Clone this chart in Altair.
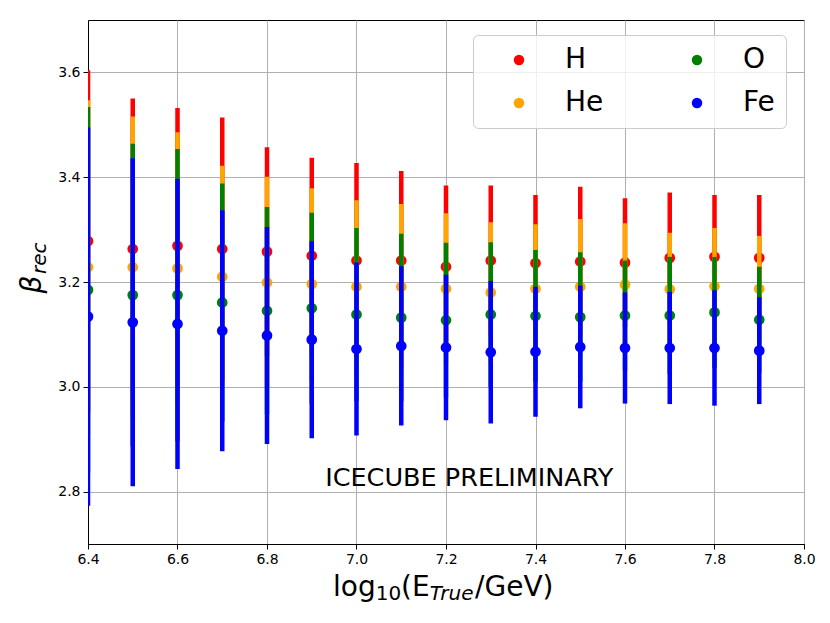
import altair as alt
import pandas as pd

# ---------------- data ----------------
energies = [6.4, 6.5, 6.6, 6.7, 6.8, 6.9, 7.0, 7.1, 7.2, 7.3, 7.4, 7.5, 7.6, 7.7, 7.8, 7.9]

h_beta = [3.278, 3.263, 3.269, 3.263, 3.258, 3.250, 3.241, 3.241, 3.229, 3.241, 3.236, 3.239, 3.237, 3.246, 3.248, 3.246]
h_err = [0.326, 0.287, 0.263, 0.251, 0.199, 0.187, 0.186, 0.171, 0.155, 0.143, 0.130, 0.143, 0.123, 0.125, 0.118, 0.120]

he_beta = [3.228, 3.228, 3.226, 3.210, 3.199, 3.196, 3.191, 3.191, 3.187, 3.180, 3.187, 3.191, 3.195, 3.186, 3.192, 3.187]
he_err = [0.319, 0.288, 0.260, 0.212, 0.202, 0.183, 0.165, 0.158, 0.144, 0.134, 0.123, 0.129, 0.117, 0.108, 0.111, 0.101]

o_beta = [3.185, 3.175, 3.175, 3.161, 3.145, 3.150, 3.138, 3.132, 3.127, 3.138, 3.135, 3.133, 3.136, 3.136, 3.142, 3.128]
o_err = [0.349, 0.289, 0.279, 0.227, 0.198, 0.182, 0.165, 0.160, 0.148, 0.138, 0.126, 0.124, 0.105, 0.112, 0.106, 0.101]

fe_beta = [3.134, 3.123, 3.120, 3.107, 3.098, 3.090, 3.072, 3.078, 3.075, 3.066, 3.067, 3.076, 3.074, 3.074, 3.074, 3.069]
fe_err = [0.361, 0.313, 0.277, 0.230, 0.207, 0.188, 0.165, 0.152, 0.139, 0.136, 0.124, 0.117, 0.106, 0.107, 0.110, 0.102]

species = ["H", "He", "O", "Fe"]
species_colors = ["#ff0000", "#ffa500", "#008000", "#0000ff"]

x_ticks = [6.4, 6.6, 6.8, 7.0, 7.2, 7.4, 7.6, 7.8, 8.0]
y_ticks = [2.8, 3.0, 3.2, 3.4, 3.6]

note_text = "ICECUBE PRELIMINARY"

# ---------------- table ----------------
series = {"H": (h_beta, h_err), "He": (he_beta, he_err), "O": (o_beta, o_err), "Fe": (fe_beta, fe_err)}
frames = []
for sp in species:
    b, e = series[sp]
    d = pd.DataFrame({"energy": energies, "beta": b, "err": e})
    d["species"] = sp
    d["lo"] = d["beta"] - d["err"]
    d["hi"] = d["beta"] + d["err"]
    frames.append(d)
df = pd.concat(frames, ignore_index=True)

color_of = dict(zip(species, species_colors))
color_scale = alt.Scale(domain=species, range=species_colors)

x_scale = alt.Scale(domain=[6.4, 8.0], nice=False, zero=False)
y_scale = alt.Scale(domain=[2.7, 3.7], nice=False, zero=False)
x_axis = alt.Axis(values=x_ticks, format=".1f", title=None, labelFlush=False, grid=True)
y_axis = alt.Axis(values=y_ticks, format=".1f", title=None, grid=True)

legend = alt.Legend(
    title=None, orient="none", legendX=385, legendY=15, columns=2,
    labelFontSize=28, labelFont="DejaVu Sans", labelColor="black",
    symbolType="circle", symbolSize=110, symbolStrokeWidth=0, symbolOpacity=1,
    symbolOffset=21, labelOffset=32, columnPadding=58, rowPadding=15,
    padding=11, fillColor="rgba(255,255,255,0.8)", strokeColor="#cccccc",
    cornerRadius=5,
)

layers = []
for sp in species:
    base = alt.Chart(df).transform_filter(alt.datum.species == sp)
    bars = base.mark_rule(color=color_of[sp], strokeWidth=4.5, clip=True).encode(
        x=alt.X("energy:Q", scale=x_scale, axis=x_axis),
        y=alt.Y("lo:Q", scale=y_scale, axis=y_axis),
        y2="hi:Q",
    )
    pts = base.mark_point(filled=True, opacity=1, size=115, clip=True).encode(
        x=alt.X("energy:Q", scale=x_scale, axis=x_axis),
        y=alt.Y("beta:Q", scale=y_scale, axis=y_axis),
        color=alt.Color("species:N", scale=color_scale, legend=legend),
    )
    layers += [bars, pts]

note = alt.Chart(pd.DataFrame({"label": [note_text]})).mark_text(
    align="left", baseline="alphabetic", fontSize=25.5, font="DejaVu Sans", color="black"
).encode(
    x=alt.XDatum(6.93, type="quantitative", scale=x_scale, axis=x_axis),
    y=alt.YDatum(2.81, type="quantitative", scale=y_scale, axis=y_axis),
    text="label:N",
)
layers.append(note)

one = pd.DataFrame({"a": [0]})


def piece(text, x, y, size, italic=False, angle=0):
    return alt.Chart(one).mark_text(
        text=text, align="left", baseline="alphabetic", fontSize=size,
        font="DejaVu Sans", fontStyle="italic" if italic else "normal",
        color="black", angle=angle,
    ).encode(x=alt.value(x), y=alt.value(y))


# x-axis title: log10(E_True/GeV)
layers += [
    piece("log", 245, 575.5, 28),
    piece("10", 287.7, 580, 20),
    piece("(E", 313.1, 575.5, 28),
    piece("True", 341.7, 580, 20, italic=True),
    piece("/GeV)", 387.1, 575.5, 28),
]
# y-axis title: beta_rec
layers += [
    piece("β", -47, 273.5, 28, italic=True, angle=270),
    piece("rec", -42, 254, 20, italic=True, angle=270),
]

chart = alt.layer(*layers).properties(
    width=716, height=524, autosize="none",
    padding={"left": 80, "top": 12, "right": 14, "bottom": 70},
).configure_view(
    stroke="black", strokeWidth=1
).configure_axis(
    labelFont="DejaVu Sans", labelFontSize=14, labelColor="black",
    tickColor="black", domainColor="black", tickSize=5, tickWidth=1,
    gridColor="#b0b0b0", gridWidth=1, labelPadding=3, domainWidth=1,
)

chart.save("out.html", embed_options={"renderer": "svg", "actions": False})
